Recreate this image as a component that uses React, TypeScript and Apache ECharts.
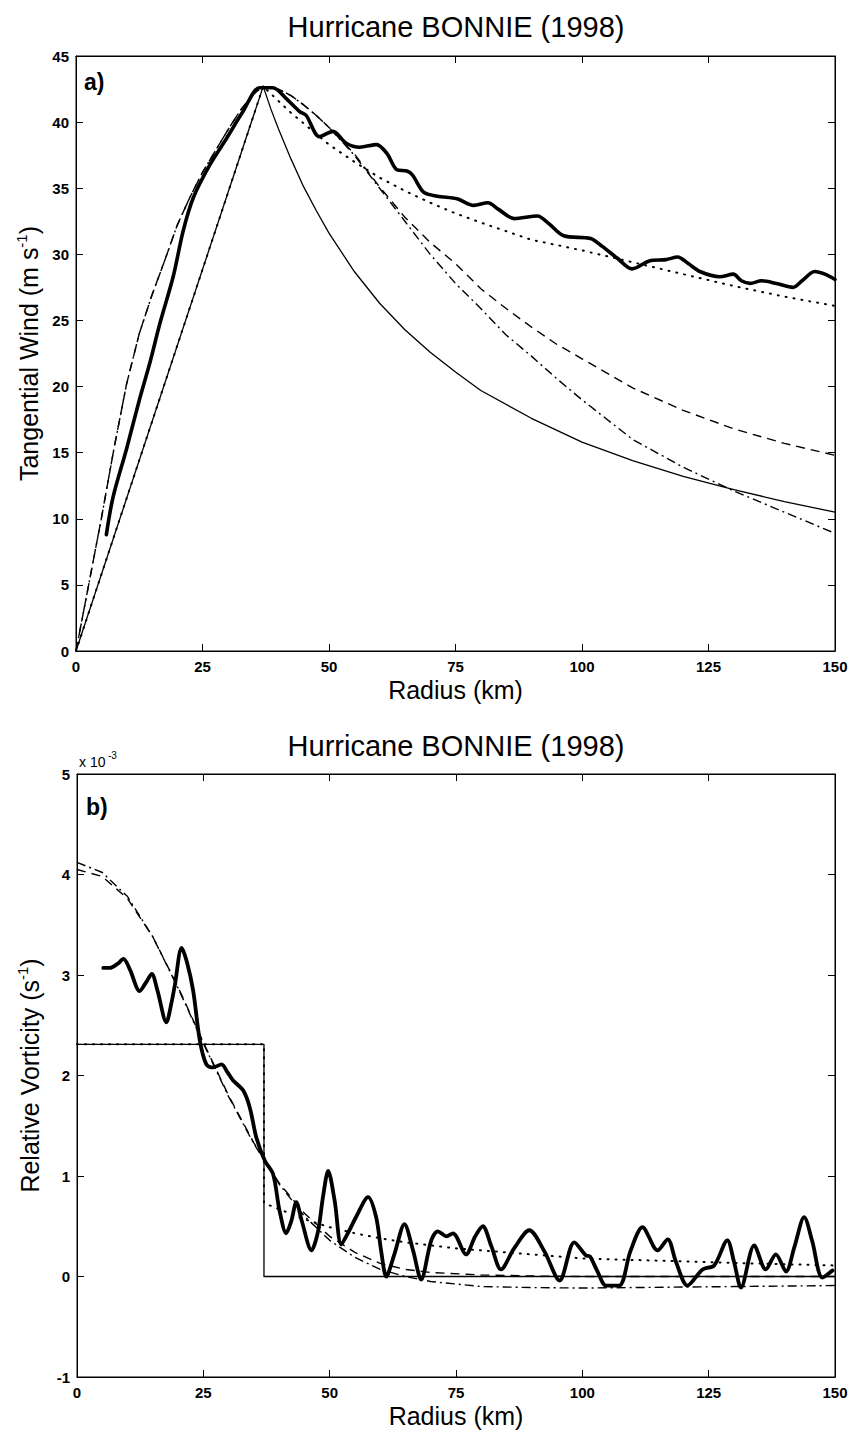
import React, { useEffect, useRef } from "react";
import * as echarts from "echarts";

// ---------- Panel a) Tangential wind (m/s) ----------
const xTicks = [0, 25, 50, 75, 100, 125, 150];
const windTicks = [0, 5, 10, 15, 20, 25, 30, 35, 40, 45];
const vortTicks = [-1, 0, 1, 2, 3, 4, 5];

// observed (thick)
const obsR = [6.0, 7.3, 10.0, 12.6, 14.6, 16.6, 19.2, 21.2, 23.2, 26.5, 29.8, 33.0, 36.3, 38.9, 41.5, 44.2, 45.5, 48.1, 50.8, 53.4, 56.1, 59.4, 61.5, 63.4, 65.4, 66.5, 68.7, 71.4, 75.3, 78.6, 81.4, 83.5, 86.6, 91.2, 93.5, 96.4, 101.7, 104, 107, 109.9, 113.3, 116.6, 118.9, 121, 123.3, 127.2, 129.9, 131.5, 133.2, 135.5, 138.4, 141.7, 143.5, 146, 148, 150];
const obsV = [8.8, 11.6, 15.3, 19.1, 21.8, 24.8, 28.3, 31.8, 34.3, 36.8, 38.8, 40.8, 42.6, 42.6, 41.8, 40.8, 40.5, 38.9, 39.3, 38.4, 38.1, 38.3, 37.6, 36.4, 36.3, 36.0, 34.7, 34.4, 34.2, 33.7, 33.9, 33.4, 32.7, 32.9, 32.3, 31.4, 31.2, 30.6, 29.7, 28.9, 29.5, 29.6, 29.8, 29.3, 28.7, 28.3, 28.5, 28.0, 27.8, 28.0, 27.8, 27.5, 28.0, 28.7, 28.5, 28.1];

// Rankine (thin solid)
const rankR = [0, 37, 38.5, 40, 42.5, 45, 47.5, 50, 55, 60, 65, 70, 75, 80, 90, 100, 110, 120, 130, 140, 150];
const rankV = [0, 42.7, 41.0, 39.5, 37.2, 35.1, 33.3, 31.6, 28.7, 26.3, 24.3, 22.6, 21.1, 19.7, 17.6, 15.8, 14.4, 13.2, 12.2, 11.3, 10.5];

// modified Rankine (dotted)
const modR = [0, 37, 40, 42.5, 45, 50, 55, 60, 65, 70, 75, 80, 90, 100, 110, 120, 130, 140, 150];
const modV = [0, 42.7, 41.6, 40.7, 39.9, 38.3, 37.0, 35.8, 34.8, 33.9, 33.1, 32.4, 31.1, 30.3, 29.4, 28.5, 27.6, 26.8, 26.1];

// dashed profile
const dashR = [0, 2.5, 5, 7.5, 10, 12.5, 15, 17.5, 20, 22.5, 25, 27.5, 30, 32.5, 35, 37, 40, 42.5, 45, 47.5, 50, 55, 60, 65, 70, 75, 80, 85, 90, 95, 100, 110, 120, 130, 140, 150];
const dashV = [0, 5.0, 10.0, 15.3, 20.2, 24.0, 26.9, 29.5, 32.2, 34.3, 36.2, 37.8, 39.4, 40.9, 42.1, 42.7, 42.5, 42.0, 41.3, 40.5, 39.6, 37.6, 35.1, 32.8, 30.9, 29.3, 27.4, 25.9, 24.5, 23.2, 22.1, 19.9, 18.2, 16.8, 15.7, 14.8];

// dash-dot profile
const ddR = [0, 2.5, 5, 7.5, 10, 12.5, 15, 17.5, 20, 22.5, 25, 27.5, 30, 32.5, 35, 37, 40, 42.5, 45, 47.5, 50, 55, 60, 65, 70, 75, 80, 85, 90, 95, 100, 110, 120, 125, 130, 140, 150];
const ddV = [0, 5.0, 10.0, 15.3, 20.2, 24.0, 26.9, 29.5, 32.2, 34.3, 36.2, 37.8, 39.4, 40.9, 42.1, 42.7, 42.5, 42.0, 41.3, 40.5, 39.6, 37.5, 35.0, 32.5, 30.0, 27.8, 25.9, 23.9, 22.3, 20.6, 19.0, 16.0, 13.9, 13.0, 12.1, 10.5, 8.9];

// ---------- Panel b) Relative vorticity (x 1e-3 1/s) ----------
const obsZR = [5.2, 6.5, 8, 9.2, 10.5, 12.4, 13.7, 14.8, 15.9, 17.7, 18.6, 19.4, 20.7, 21.8, 23, 24.3, 25.6, 26.9, 28.6, 29.8, 30.9, 32.9, 34.2, 35.5, 37.2, 38.8, 40.1, 41.4, 42.4, 43.4, 44.5, 46.4, 47.7, 48.7, 49.7, 51, 52.3, 53.8, 55.3, 57.6, 59.2, 60.2, 61.2, 62.8, 64.8, 66.5, 68.1, 70.1, 71.4, 73.1, 74.4, 77, 78.8, 80.3, 82, 83.9, 86.5, 89.5, 92.5, 95.5, 98.4, 100.7, 101.5, 103, 104.7, 107.3, 109.5, 111.9, 114.9, 116.9, 118.5, 120.8, 123.8, 126.1, 128.7, 130, 131.4, 134, 136.3, 138.3, 140.3, 142, 143.9, 145.5, 147.5, 149.5];
const obsZ = [3.07, 3.07, 3.11, 3.16, 3.05, 2.84, 2.93, 3.01, 2.85, 2.53, 2.70, 2.91, 3.27, 3.12, 2.84, 2.35, 2.11, 2.08, 2.11, 2.03, 1.95, 1.85, 1.68, 1.38, 1.15, 1.02, 0.65, 0.43, 0.55, 0.74, 0.55, 0.26, 0.45, 0.80, 1.05, 0.75, 0.32, 0.45, 0.60, 0.79, 0.59, 0.25, 0.0, 0.22, 0.52, 0.26, -0.03, 0.36, 0.45, 0.40, 0.43, 0.22, 0.40, 0.50, 0.30, 0.07, 0.28, 0.46, 0.25, -0.04, 0.34, 0.21, 0.20, 0.05, -0.09, -0.09, 0.25, 0.49, 0.26, 0.37, 0.15, -0.09, 0.07, 0.11, 0.36, 0.15, -0.11, 0.31, 0.07, 0.22, 0.05, 0.30, 0.59, 0.35, -0.01, 0.06];

// Rankine vorticity (thin solid step)
const rankZR = [0, 37, 37, 150];
const rankZ = [2.31, 2.31, 0, 0];

// modified Rankine vorticity (dotted)
const modZR = [0, 37, 37, 40, 45, 50, 55, 60, 65, 70, 75, 80, 90, 100, 110, 120, 130, 140, 150];
const modZ = [2.31, 2.31, 0.73, 0.67, 0.57, 0.49, 0.43, 0.38, 0.34, 0.31, 0.28, 0.26, 0.22, 0.18, 0.165, 0.15, 0.135, 0.122, 0.11];

// dashed vorticity
const dashZR = [0, 5, 10, 15, 20, 25, 30, 35, 40, 45, 50, 55, 60, 65, 70, 80, 90, 100, 150];
const dashZ = [4.05, 3.98, 3.76, 3.38, 2.88, 2.33, 1.80, 1.33, 0.93, 0.63, 0.40, 0.24, 0.13, 0.07, 0.04, 0.015, 0.005, 0, 0];

// dash-dot vorticity
const ddZR = [0, 5, 10, 15, 20, 25, 30, 35, 40, 45, 50, 55, 60, 65, 70, 80, 90, 100, 110, 120, 130, 140, 150];
const ddZ = [4.12, 4.02, 3.78, 3.38, 2.87, 2.32, 1.79, 1.32, 0.92, 0.60, 0.36, 0.19, 0.07, 0.0, -0.05, -0.10, -0.11, -0.115, -0.11, -0.105, -0.10, -0.095, -0.09];

const pairs = (xs: number[], ys: number[]) => xs.map((x, i) => [x, ys[i]]);

const FONT = "Liberation Sans, Arial, sans-serif";

export default function App() {
  const ref = useRef<HTMLDivElement>(null);
  useEffect(() => {
    if (!ref.current) return;
    const chart = echarts.init(ref.current, undefined, { renderer: "svg" });

    const grids = [
      { left: 76, right: 19, top: 56, height: 595 },
      { left: 77, right: 19, top: 774, height: 603 },
    ];

    const tickStyle = { inside: true, length: 7, lineStyle: { color: "#000", width: 1 } };
    const axisLine = { onZero: false, lineStyle: { color: "#000", width: 1 } };
    const labelStyle = { color: "#000", fontFamily: FONT, fontSize: 15, fontWeight: "bold" as const };
    const nameStyle = {
      color: "#000",
      fontFamily: FONT,
      fontSize: 25,
      rich: { sup: { fontSize: 15, fontFamily: FONT, color: "#000", padding: [0, 0, 14, 0] }, n: { fontSize: 25, fontFamily: FONT, color: "#000" } },
    };

    const mkX = (g: number, pos: "bottom" | "top") => ({
      type: "value",
      gridIndex: g,
      position: pos,
      min: 0,
      max: 150,
      interval: 25,
      axisLine,
      axisTick: tickStyle,
      splitLine: { show: false },
      axisLabel: pos === "bottom" ? { ...labelStyle, margin: 8 } : { show: false },
      name: pos === "bottom" ? "Radius (km)" : "",
      nameLocation: "middle",
      nameGap: 26,
      nameTextStyle: nameStyle,
    });
    const mkY = (g: number, pos: "left" | "right", min: number, max: number, interval: number, name: string) => ({
      type: "value",
      gridIndex: g,
      position: pos,
      min,
      max,
      interval,
      axisLine,
      axisTick: tickStyle,
      splitLine: { show: false },
      axisLabel: pos === "left" ? { ...labelStyle, margin: 7 } : { show: false },
      name: pos === "left" ? name : "",
      nameLocation: "middle",
      nameGap: 33,
      nameTextStyle: nameStyle,
    });

    const line = (data: number[][], xi: number, yi: number, width: number, type: any, smooth: number | boolean = false, cap: any = "butt") => ({
      type: "line",
      xAxisIndex: xi,
      yAxisIndex: yi,
      data,
      symbol: "none",
      showSymbol: false,
      smooth,
      silent: true,
      lineStyle: { color: "#000", width, type, cap, join: "round" },
      z: width > 2 ? 3 : 2,
    });

    const option: any = {
      animation: false,
      backgroundColor: "#fff",
      grid: grids.map((g) => ({ ...g, show: true, borderColor: "#000", borderWidth: 1, backgroundColor: "transparent" })),
      xAxis: [mkX(0, "bottom"), mkX(0, "top"), mkX(1, "bottom"), mkX(1, "top")],
      yAxis: [
        mkY(0, "left", 0, 45, 5, "{n|Tangential Wind (m s}{sup|-1}{n|)}"),
        mkY(0, "right", 0, 45, 5, ""),
        mkY(1, "left", -1, 5, 1, "{n|Relative Vorticity (s}{sup|-1}{n|)}"),
        mkY(1, "right", -1, 5, 1, ""),
      ],
      series: [
        line(pairs(rankR, rankV), 0, 0, 1.3, "solid"),
        line(pairs(modR, modV), 0, 0, 2, [1, 7], false, "round"),
        line(pairs(dashR, dashV), 0, 0, 1.4, [9, 6]),
        line(pairs(ddR, ddV), 0, 0, 1.4, [9, 4, 2, 4]),
        line(pairs(obsR, obsV), 0, 0, 3.6, "solid", 0.3, "round"),

        line(pairs(rankZR, rankZ), 2, 2, 1.3, "solid"),
        line(pairs(modZR, modZ), 2, 2, 2, [1, 7], false, "round"),
        line(pairs(dashZR, dashZ), 2, 2, 1.4, [9, 6]),
        line(pairs(ddZR, ddZ), 2, 2, 1.4, [9, 4, 2, 4]),
        line(pairs(obsZR, obsZ), 2, 2, 3.8, "solid", 0.3, "round"),
      ],
      graphic: [
        { type: "text", x: 456, y: 27, style: { text: "Hurricane BONNIE (1998)", fontFamily: FONT, fontSize: 29, fill: "#000", textAlign: "center", textVerticalAlign: "middle" } },
        { type: "text", x: 456, y: 746, style: { text: "Hurricane BONNIE (1998)", fontFamily: FONT, fontSize: 29, fill: "#000", textAlign: "center", textVerticalAlign: "middle" } },
        { type: "text", x: 84, y: 82, style: { text: "a)", fontFamily: FONT, fontSize: 23, fontWeight: "bold", fill: "#000", textVerticalAlign: "middle" } },
        { type: "text", x: 86, y: 807, style: { text: "b)", fontFamily: FONT, fontSize: 23, fontWeight: "bold", fill: "#000", textVerticalAlign: "middle" } },
        { type: "text", x: 79, y: 762, style: { text: "x 10", fontFamily: FONT, fontSize: 14, fill: "#000", textVerticalAlign: "middle" } },
        { type: "text", x: 108, y: 755, style: { text: "-3", fontFamily: FONT, fontSize: 10, fill: "#000", textVerticalAlign: "middle" } },
      ],
    };
    chart.setOption(option);
    return () => chart.dispose();
  }, []);
  return <div ref={ref} style={{ position: "absolute", left: 0, top: 0, width: 854, height: 1435, background: "#fff" }} />;
}
